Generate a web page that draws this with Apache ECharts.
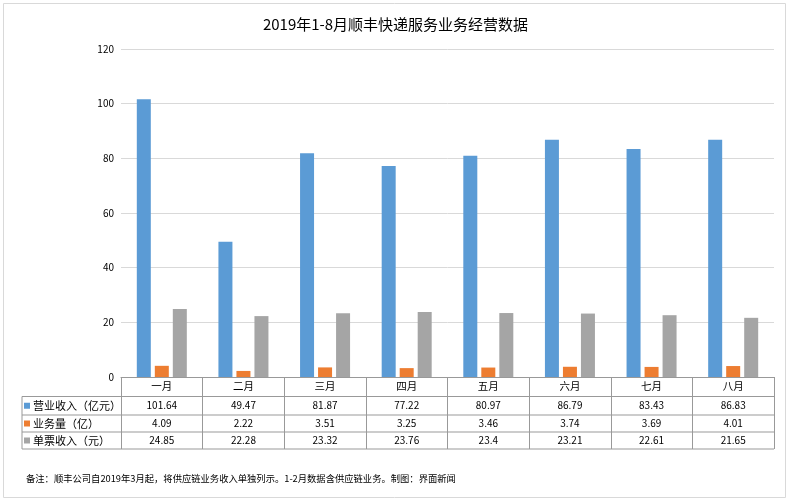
<!DOCTYPE html>
<html><head><meta charset="utf-8">
<script src="https://cdn.jsdelivr.net/npm/echarts@6/dist/echarts.min.js"></script>
<style>html,body{margin:0;padding:0;background:#fff}#c{width:791px;height:504px}</style>
</head><body><div id="c"></div>
<script>
const months = ['一月','二月','三月','四月','五月','六月','七月','八月'];
const seriesNames = ['营业收入（亿元）','业务量（亿）','单票收入（元）'];
const revenue = [101.64, 49.47, 81.87, 77.22, 80.97, 86.79, 83.43, 86.83];
const volume = [4.09, 2.22, 3.51, 3.25, 3.46, 3.74, 3.69, 4.01];
const unitRevenue = [24.85, 22.28, 23.32, 23.76, 23.4, 23.21, 22.61, 21.65];
const yTicks = {min: 0, max: 120, interval: 20};
const titleText = '2019年1-8月顺丰快递服务业务经营数据';
const noteText = '备注：顺丰公司自2019年3月起，将供应链业务收入单独列示。1-2月数据含供应链业务。制图：界面新闻';

const colors = ['#5B9BD5', '#ED7D31', '#A5A5A5'];
const FONT = '"Noto Sans CJK SC", "Noto Sans", sans-serif';
const lineColor = '#999999';
const gridL = 121, gridR = 774, gridB = 377, gridT = 49;
const rowY = [377, 396.5, 415, 432, 449];
const tableLeft = 22;
const rowsData = [revenue, volume, unitRevenue];

const chart = echarts.init(document.getElementById('c'), null, {renderer: 'canvas'});

const xAxes = [{
  type: 'category', data: months, position: 'bottom', gridIndex: 0,
  axisLine: {show: true, lineStyle: {color: lineColor, width: 1}},
  axisTick: {show: true, interval: 0, length: rowY[4] - rowY[0], lineStyle: {color: lineColor}},
  axisLabel: {margin: 4, fontSize: 10.5, color: '#000', fontFamily: FONT, interval: 0}
}];
rowsData.forEach((arr, i) => {
  xAxes.push({
    type: 'category', data: arr.map(String), position: 'bottom', gridIndex: 0,
    offset: rowY[i + 1] - rowY[0],
    axisLine: {show: false}, axisTick: {show: false}, splitLine: {show: false},
    axisLabel: {margin: i === 0 ? 4 : 3, fontSize: 10, color: '#000', fontFamily: FONT, interval: 0}
  });
});

const legends = seriesNames.map((n, i) => ({
  data: [n], orient: 'vertical', left: 24, top: (rowY[i + 1] + rowY[i + 2]) / 2 - 7,
  padding: 0, itemWidth: 6, itemHeight: 6, icon: 'rect', selectedMode: false,
  textStyle: {fontSize: 11, color: '#000', fontFamily: FONT, lineHeight: 14, padding: [0,0,0,-2]}
}));

const graphics = [];
[1, 2, 3, 4].forEach(k => {
  graphics.push({type: 'line', silent: true, shape: {x1: tableLeft, y1: rowY[k], x2: gridR, y2: rowY[k]},
    style: {stroke: lineColor, lineWidth: 1}});
});
graphics.push({type: 'line', silent: true, shape: {x1: tableLeft, y1: rowY[1], x2: tableLeft, y2: rowY[4]},
  style: {stroke: lineColor, lineWidth: 1}});
graphics.push({type: 'rect', silent: true, z: -1, shape: {x: 3.5, y: 3.5, width: 782, height: 494},
  style: {fill: null, stroke: '#d9d9d9', lineWidth: 1}});

chart.setOption({
  animation: false,
  color: colors,
  textStyle: {fontFamily: FONT},
  title: [
    {text: titleText, left: 'center', top: 12, textStyle: {fontSize: 15, fontWeight: 'normal', color: '#000', fontFamily: FONT}},
    {text: noteText, left: 21, top: 469, textStyle: {fontSize: 9.3, fontWeight: 'normal', color: '#000', fontFamily: FONT}}
  ],
  legend: legends,
  grid: {left: gridL, right: 791 - gridR, top: gridT, bottom: 504 - gridB, containLabel: false},
  xAxis: xAxes,
  yAxis: {
    type: 'value', min: yTicks.min, max: yTicks.max, interval: yTicks.interval,
    axisLine: {show: false}, axisTick: {show: false},
    splitLine: {lineStyle: {color: '#d9d9d9'}},
    axisLabel: {margin: 7, fontSize: 10, color: '#000', fontFamily: FONT}
  },
  series: [
    {name: seriesNames[0], type: 'bar', data: revenue, barWidth: 14, barGap: '28.6%', xAxisIndex: 0},
    {name: seriesNames[1], type: 'bar', data: volume, barWidth: 14, barGap: '28.6%', xAxisIndex: 0},
    {name: seriesNames[2], type: 'bar', data: unitRevenue, barWidth: 14, barGap: '28.6%', xAxisIndex: 0}
  ],
  graphic: graphics
});
</script></body></html>
